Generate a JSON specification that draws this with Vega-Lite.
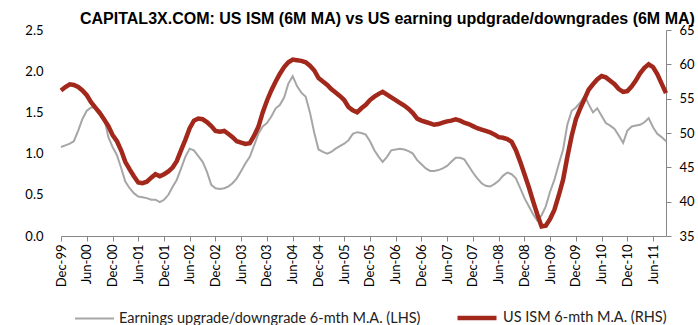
{
 "$schema": "https://vega.github.io/schema/vega-lite/v6.json",
 "width": 605,
 "height": 206,
 "autosize": {"type": "none"},
 "padding": {"left": 61, "top": 30, "right": 32, "bottom": 89},
 "background": "white",
 "title": {"text": "CAPITAL3X.COM: US ISM (6M MA) vs US earning updgrade/downgrades (6M MA)", "font": "Liberation Sans", "fontSize": 16, "fontWeight": "bold", "color": "#000000", "anchor": "start", "frame": "group", "dx": 19, "dy": 22, "offset": 6, "baseline": "alphabetic"},
 "config": {"view": {"stroke": null}, "axis": {"grid": false, "labelFont": "Lato", "labelFontSize": 13, "labelColor": "#000000"}},
 "data": {"values": [
  {"d":"1999-12-01","e":1.08,"i":56.2},
  {"d":"2000-01-01","e":1.10,"i":56.7},
  {"d":"2000-02-01","e":1.12,"i":57.1},
  {"d":"2000-03-01","e":1.15,"i":57.0},
  {"d":"2000-04-01","e":1.28,"i":56.7},
  {"d":"2000-05-01","e":1.42,"i":56.2},
  {"d":"2000-06-01","e":1.52,"i":55.5},
  {"d":"2000-07-01","e":1.56,"i":54.5},
  {"d":"2000-08-01","e":1.56,"i":53.7},
  {"d":"2000-09-01","e":1.52,"i":52.9},
  {"d":"2000-10-01","e":1.44,"i":52.0},
  {"d":"2000-11-01","e":1.20,"i":51.0},
  {"d":"2000-12-01","e":1.08,"i":49.7},
  {"d":"2001-01-01","e":0.98,"i":48.8},
  {"d":"2001-02-01","e":0.82,"i":47.4},
  {"d":"2001-03-01","e":0.66,"i":45.8},
  {"d":"2001-04-01","e":0.58,"i":44.7},
  {"d":"2001-05-01","e":0.52,"i":43.7},
  {"d":"2001-06-01","e":0.48,"i":42.8},
  {"d":"2001-07-01","e":0.47,"i":42.7},
  {"d":"2001-08-01","e":0.46,"i":42.9},
  {"d":"2001-09-01","e":0.44,"i":43.5},
  {"d":"2001-10-01","e":0.44,"i":44.0},
  {"d":"2001-11-01","e":0.41,"i":43.7},
  {"d":"2001-12-01","e":0.44,"i":44.0},
  {"d":"2002-01-01","e":0.50,"i":44.4},
  {"d":"2002-02-01","e":0.60,"i":45.0},
  {"d":"2002-03-01","e":0.68,"i":45.9},
  {"d":"2002-04-01","e":0.82,"i":47.5},
  {"d":"2002-05-01","e":0.96,"i":49.0},
  {"d":"2002-06-01","e":1.06,"i":50.7},
  {"d":"2002-07-01","e":1.04,"i":51.8},
  {"d":"2002-08-01","e":0.97,"i":52.1},
  {"d":"2002-09-01","e":0.90,"i":52.0},
  {"d":"2002-10-01","e":0.78,"i":51.6},
  {"d":"2002-11-01","e":0.62,"i":51.0},
  {"d":"2002-12-01","e":0.58,"i":50.3},
  {"d":"2003-01-01","e":0.57,"i":50.2},
  {"d":"2003-02-01","e":0.58,"i":50.3},
  {"d":"2003-03-01","e":0.60,"i":49.9},
  {"d":"2003-04-01","e":0.64,"i":49.4},
  {"d":"2003-05-01","e":0.70,"i":48.8},
  {"d":"2003-06-01","e":0.79,"i":48.6},
  {"d":"2003-07-01","e":0.88,"i":48.4},
  {"d":"2003-08-01","e":0.96,"i":48.5},
  {"d":"2003-09-01","e":1.10,"i":49.6},
  {"d":"2003-10-01","e":1.24,"i":50.9},
  {"d":"2003-11-01","e":1.33,"i":53.0},
  {"d":"2003-12-01","e":1.37,"i":54.7},
  {"d":"2004-01-01","e":1.45,"i":56.2},
  {"d":"2004-02-01","e":1.55,"i":57.5},
  {"d":"2004-03-01","e":1.59,"i":58.6},
  {"d":"2004-04-01","e":1.68,"i":59.6},
  {"d":"2004-05-01","e":1.85,"i":60.3},
  {"d":"2004-06-01","e":1.94,"i":60.7},
  {"d":"2004-07-01","e":1.82,"i":60.6},
  {"d":"2004-08-01","e":1.74,"i":60.5},
  {"d":"2004-09-01","e":1.69,"i":60.3},
  {"d":"2004-10-01","e":1.50,"i":59.8},
  {"d":"2004-11-01","e":1.25,"i":59.1},
  {"d":"2004-12-01","e":1.05,"i":58.0},
  {"d":"2005-01-01","e":1.02,"i":57.5},
  {"d":"2005-02-01","e":1.00,"i":57.0},
  {"d":"2005-03-01","e":1.02,"i":56.4},
  {"d":"2005-04-01","e":1.06,"i":55.9},
  {"d":"2005-05-01","e":1.09,"i":55.4},
  {"d":"2005-06-01","e":1.12,"i":54.8},
  {"d":"2005-07-01","e":1.16,"i":53.8},
  {"d":"2005-08-01","e":1.24,"i":53.3},
  {"d":"2005-09-01","e":1.26,"i":53.0},
  {"d":"2005-10-01","e":1.25,"i":53.6},
  {"d":"2005-11-01","e":1.23,"i":54.1},
  {"d":"2005-12-01","e":1.15,"i":54.8},
  {"d":"2006-01-01","e":1.04,"i":55.3},
  {"d":"2006-02-01","e":0.96,"i":55.7},
  {"d":"2006-03-01","e":0.90,"i":56.0},
  {"d":"2006-04-01","e":0.96,"i":55.6},
  {"d":"2006-05-01","e":1.04,"i":55.2},
  {"d":"2006-06-01","e":1.05,"i":54.8},
  {"d":"2006-07-01","e":1.06,"i":54.4},
  {"d":"2006-08-01","e":1.05,"i":54.0},
  {"d":"2006-09-01","e":1.03,"i":53.5},
  {"d":"2006-10-01","e":1.00,"i":52.9},
  {"d":"2006-11-01","e":0.92,"i":52.1},
  {"d":"2006-12-01","e":0.87,"i":51.8},
  {"d":"2007-01-01","e":0.82,"i":51.6},
  {"d":"2007-02-01","e":0.79,"i":51.4},
  {"d":"2007-03-01","e":0.79,"i":51.2},
  {"d":"2007-04-01","e":0.80,"i":51.3},
  {"d":"2007-05-01","e":0.82,"i":51.5},
  {"d":"2007-06-01","e":0.85,"i":51.7},
  {"d":"2007-07-01","e":0.90,"i":51.8},
  {"d":"2007-08-01","e":0.95,"i":52.0},
  {"d":"2007-09-01","e":0.95,"i":51.8},
  {"d":"2007-10-01","e":0.93,"i":51.5},
  {"d":"2007-11-01","e":0.85,"i":51.3},
  {"d":"2007-12-01","e":0.77,"i":51.0},
  {"d":"2008-01-01","e":0.70,"i":50.7},
  {"d":"2008-02-01","e":0.64,"i":50.5},
  {"d":"2008-03-01","e":0.61,"i":50.3},
  {"d":"2008-04-01","e":0.60,"i":50.1},
  {"d":"2008-05-01","e":0.63,"i":49.8},
  {"d":"2008-06-01","e":0.67,"i":49.4},
  {"d":"2008-07-01","e":0.73,"i":49.3},
  {"d":"2008-08-01","e":0.77,"i":49.1},
  {"d":"2008-09-01","e":0.75,"i":48.7},
  {"d":"2008-10-01","e":0.70,"i":47.5},
  {"d":"2008-11-01","e":0.58,"i":45.8},
  {"d":"2008-12-01","e":0.46,"i":44.0},
  {"d":"2009-01-01","e":0.36,"i":42.1},
  {"d":"2009-02-01","e":0.26,"i":40.0},
  {"d":"2009-03-01","e":0.19,"i":38.2},
  {"d":"2009-04-01","e":0.25,"i":36.4},
  {"d":"2009-05-01","e":0.36,"i":36.5},
  {"d":"2009-06-01","e":0.54,"i":37.5},
  {"d":"2009-07-01","e":0.68,"i":38.8},
  {"d":"2009-08-01","e":0.87,"i":40.9},
  {"d":"2009-09-01","e":1.05,"i":43.2},
  {"d":"2009-10-01","e":1.35,"i":46.5},
  {"d":"2009-11-01","e":1.52,"i":49.6},
  {"d":"2009-12-01","e":1.56,"i":52.0},
  {"d":"2010-01-01","e":1.62,"i":53.6},
  {"d":"2010-02-01","e":1.70,"i":55.0},
  {"d":"2010-03-01","e":1.60,"i":56.3},
  {"d":"2010-04-01","e":1.50,"i":57.1},
  {"d":"2010-05-01","e":1.55,"i":57.8},
  {"d":"2010-06-01","e":1.46,"i":58.3},
  {"d":"2010-07-01","e":1.37,"i":58.1},
  {"d":"2010-08-01","e":1.34,"i":57.6},
  {"d":"2010-09-01","e":1.30,"i":57.1},
  {"d":"2010-10-01","e":1.22,"i":56.4},
  {"d":"2010-11-01","e":1.13,"i":56.0},
  {"d":"2010-12-01","e":1.28,"i":56.1},
  {"d":"2011-01-01","e":1.33,"i":56.8},
  {"d":"2011-02-01","e":1.34,"i":57.7},
  {"d":"2011-03-01","e":1.35,"i":58.7},
  {"d":"2011-04-01","e":1.38,"i":59.5},
  {"d":"2011-05-01","e":1.43,"i":60.0},
  {"d":"2011-06-01","e":1.32,"i":59.6},
  {"d":"2011-07-01","e":1.24,"i":58.6},
  {"d":"2011-08-01","e":1.20,"i":57.2},
  {"d":"2011-09-01","e":1.15,"i":55.8}
 ]},
 "transform": [{"fold": ["e", "i"], "as": ["s", "v"]}],
 "encoding": {
  "x": {"field": "d", "type": "temporal",
   "scale": {"type": "utc", "domain": [{"year": 1999, "month": 12, "date": 1, "utc": true}, {"year": 2011, "month": 9, "date": 1, "utc": true}]},
   "axis": {"title": null, "format": "%b-%y", "labelAngle": 270, "labelPadding": 3, "tickSize": 5, "tickColor": "#868686", "domainColor": "#868686", "labelOverlap": false, "labelFlush": false,
    "values": [
     {"year": 1999, "month": 12, "date": 1, "utc": true},
     {"year": 2000, "month": 6, "date": 1, "utc": true},
     {"year": 2000, "month": 12, "date": 1, "utc": true},
     {"year": 2001, "month": 6, "date": 1, "utc": true},
     {"year": 2001, "month": 12, "date": 1, "utc": true},
     {"year": 2002, "month": 6, "date": 1, "utc": true},
     {"year": 2002, "month": 12, "date": 1, "utc": true},
     {"year": 2003, "month": 6, "date": 1, "utc": true},
     {"year": 2003, "month": 12, "date": 1, "utc": true},
     {"year": 2004, "month": 6, "date": 1, "utc": true},
     {"year": 2004, "month": 12, "date": 1, "utc": true},
     {"year": 2005, "month": 6, "date": 1, "utc": true},
     {"year": 2005, "month": 12, "date": 1, "utc": true},
     {"year": 2006, "month": 6, "date": 1, "utc": true},
     {"year": 2006, "month": 12, "date": 1, "utc": true},
     {"year": 2007, "month": 6, "date": 1, "utc": true},
     {"year": 2007, "month": 12, "date": 1, "utc": true},
     {"year": 2008, "month": 6, "date": 1, "utc": true},
     {"year": 2008, "month": 12, "date": 1, "utc": true},
     {"year": 2009, "month": 6, "date": 1, "utc": true},
     {"year": 2009, "month": 12, "date": 1, "utc": true},
     {"year": 2010, "month": 6, "date": 1, "utc": true},
     {"year": 2010, "month": 12, "date": 1, "utc": true},
     {"year": 2011, "month": 6, "date": 1, "utc": true}
    ]}},
  "color": {"field": "s", "type": "nominal", "scale": {"domain": ["e", "i"], "range": ["#a6a6a6", "#a3281c"]},
   "legend": {"title": null, "orient": "none", "legendX": 13, "legendY": 266, "direction": "horizontal", "symbolType": "stroke", "symbolSize": 1521, "labelFont": "Lato", "labelFontSize": 14.5, "labelColor": "#222222", "columnPadding": 27, "labelOffset": 4, "padding": 0, "labelLimit": 400,
    "labelExpr": "datum.label == 'e' ? 'Earnings upgrade/downgrade 6-mth M.A. (LHS)' : 'US ISM 6-mth M.A. (RHS)'"}},
  "strokeWidth": {"field": "s", "type": "nominal", "scale": {"domain": ["e", "i"], "range": [2, 4.5]},
   "legend": {"title": null, "orient": "none", "legendX": 13, "legendY": 266, "direction": "horizontal", "symbolType": "stroke", "symbolSize": 1521, "labelFont": "Lato", "labelFontSize": 14.5, "labelColor": "#222222", "columnPadding": 27, "labelOffset": 4, "padding": 0, "labelLimit": 400,
    "labelExpr": "datum.label == 'e' ? 'Earnings upgrade/downgrade 6-mth M.A. (LHS)' : 'US ISM 6-mth M.A. (RHS)'"}}
 },
 "layer": [
  {"transform": [{"filter": "datum.s === 'e'"}], "mark": {"type": "line"},
   "encoding": {"y": {"field": "v", "type": "quantitative", "scale": {"domain": [0, 2.5], "nice": false, "zero": false},
    "axis": {"title": null, "orient": "left", "values": [0, 0.5, 1, 1.5, 2, 2.5], "format": ".1f", "domain": false, "ticks": false, "labelPadding": 18, "labelFlush": false}}}},
  {"transform": [{"filter": "datum.s === 'i'"}], "mark": {"type": "line"},
   "encoding": {"y": {"field": "v", "type": "quantitative", "scale": {"domain": [35, 65], "nice": false, "zero": false},
    "axis": {"title": null, "orient": "right", "values": [35, 40, 45, 50, 55, 60, 65], "format": "d", "domain": true, "domainColor": "#868686", "ticks": true, "tickSize": 5, "tickColor": "#868686", "labelPadding": 8, "labelFlush": false}}}}
 ],
 "resolve": {"scale": {"y": "independent"}}
}
